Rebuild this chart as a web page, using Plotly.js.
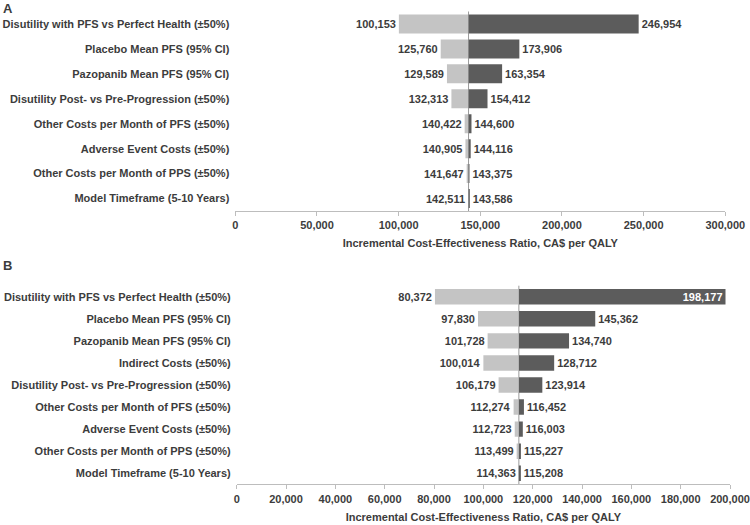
<!DOCTYPE html>
<html>
<head>
<meta charset="utf-8">
<script src="https://cdn.plot.ly/plotly-3.0.1.min.js"></script>
<style>
  body { margin: 0; background: #fff; }
  #myDiv { width: 750px; height: 525px; }
</style>
</head>
<body>
<div id="myDiv"></div>
<script>
// panel A
var catsA = [
  'Disutility with PFS vs Perfect Health (±50%)',
  'Placebo Mean PFS (95% CI)',
  'Pazopanib Mean PFS (95% CI)',
  'Disutility Post- vs Pre-Progression (±50%)',
  'Other Costs per Month of PFS (±50%)',
  'Adverse Event Costs (±50%)',
  'Other Costs per Month of PPS (±50%)',
  'Model Timeframe (5-10 Years)'
];
var lowA = [100153, 125760, 129589, 132313, 140422, 140905, 141647, 142511];
var highA = [246954, 173906, 163354, 154412, 144600, 144116, 143375, 143586];
var baseA = 142800;

// panel B
var catsB = [
  'Disutility with PFS vs Perfect Health (±50%)',
  'Placebo Mean PFS (95% CI)',
  'Pazopanib Mean PFS (95% CI)',
  'Indirect Costs (±50%)',
  'Disutility Post- vs Pre-Progression (±50%)',
  'Other Costs per Month of PFS (±50%)',
  'Adverse Event Costs (±50%)',
  'Other Costs per Month of PPS (±50%)',
  'Model Timeframe (5-10 Years)'
];
var lowB = [80372, 97830, 101728, 100014, 106179, 112274, 112723, 113499, 114363];
var highB = [198177, 145362, 134740, 128712, 123914, 116452, 116003, 115227, 115208];
var baseB = 114400;

var xTitle = 'Incremental Cost-Effectiveness Ratio, CA$ per QALY';

var LIGHT = '#c4c4c4', DARK = '#5c5c5c', TXT = '#3c3c3c';
var fnt = {family: 'Liberation Sans, Arial, sans-serif', size: 11, color: TXT, weight: 700};

function fmt(v) { return v.toLocaleString('en-US'); }

function side(cats, vals, base, color, xa, ya, width, positions) {
  return {
    type: 'bar',
    orientation: 'h',
    y: cats,
    x: vals.map(function (v) { return v - base; }),
    base: cats.map(function () { return base; }),
    text: vals.map(fmt),
    textposition: positions || 'outside',
    insidetextanchor: 'end',
    constraintext: 'none',
    cliponaxis: false,
    outsidetextfont: fnt,
    insidetextfont: {family: fnt.family, size: fnt.size, color: '#ffffff', weight: 700},
    marker: {color: color, line: {width: 0}},
    width: width,
    hoverinfo: 'skip',
    xaxis: xa,
    yaxis: ya,
    showlegend: false
  };
}

var posB = highB.map(function (v, i) { return i === 0 ? 'inside' : 'outside'; });

var data = [
  side(catsA, lowA, baseA, LIGHT, 'x', 'y', 0.76),
  side(catsA, highA, baseA, DARK, 'x', 'y', 0.76),
  side(catsB, lowB, baseB, LIGHT, 'x2', 'y2', 0.7),
  side(catsB, highB, baseB, DARK, 'x2', 'y2', 0.7, posB)
];

function xax(domain, range, dtick, anchor) {
  return {
    domain: domain,
    range: range,
    dtick: dtick,
    tick0: 0,
    tickformat: ',',
    showgrid: false,
    zeroline: false,
    showline: true,
    linecolor: '#bdbdbd',
    linewidth: 1,
    ticks: 'outside',
    ticklen: 4,
    tickcolor: '#bdbdbd',
    tickfont: fnt,
    anchor: anchor,
    title: {text: xTitle, font: fnt, standoff: 9},
    fixedrange: true
  };
}

function yax(domain, anchor) {
  return {
    domain: domain,
    autorange: 'reversed',
    showgrid: false,
    zeroline: false,
    showline: false,
    ticks: '',
    ticklabelstandoff: 5,
    tickfont: fnt,
    anchor: anchor,
    fixedrange: true
  };
}

var layout = {
  width: 750,
  height: 525,
  margin: {l: 0, r: 0, t: 0, b: 0},
  paper_bgcolor: '#ffffff',
  plot_bgcolor: '#ffffff',
  barmode: 'overlay',
  font: fnt,
  xaxis: xax([235.3 / 750, 725.3 / 750], [0, 300000], 50000, 'y'),
  yaxis: yax([1 - 211 / 525, 1 - 11.5 / 525], 'x'),
  xaxis2: xax([236.7 / 750, 730 / 750], [0, 200000], 20000, 'y2'),
  yaxis2: yax([1 - 484.3 / 525, 1 - 285.7 / 525], 'x2'),
  shapes: [
    {type: 'line', xref: 'x', yref: 'y domain', x0: baseA, x1: baseA, y0: 0, y1: 1,
     line: {color: '#9a9a9a', width: 1}, layer: 'below'},
    {type: 'line', xref: 'x2', yref: 'y2 domain', x0: baseB, x1: baseB, y0: 0, y1: 1,
     line: {color: '#9a9a9a', width: 1}, layer: 'below'}
  ],
  annotations: [
    {text: 'A', xref: 'paper', yref: 'paper', x: 1 / 750, y: 1 + 1 / 525,
     xanchor: 'left', yanchor: 'top', showarrow: false,
     font: {family: fnt.family, size: 13, color: TXT, weight: 700}},
    {text: 'B', xref: 'paper', yref: 'paper', x: 1 / 750, y: 1 - 256 / 525,
     xanchor: 'left', yanchor: 'top', showarrow: false,
     font: {family: fnt.family, size: 13, color: TXT, weight: 700}}
  ]
};

Plotly.newPlot('myDiv', data, layout, {displayModeBar: false, staticPlot: true});
</script>
</body>
</html>
